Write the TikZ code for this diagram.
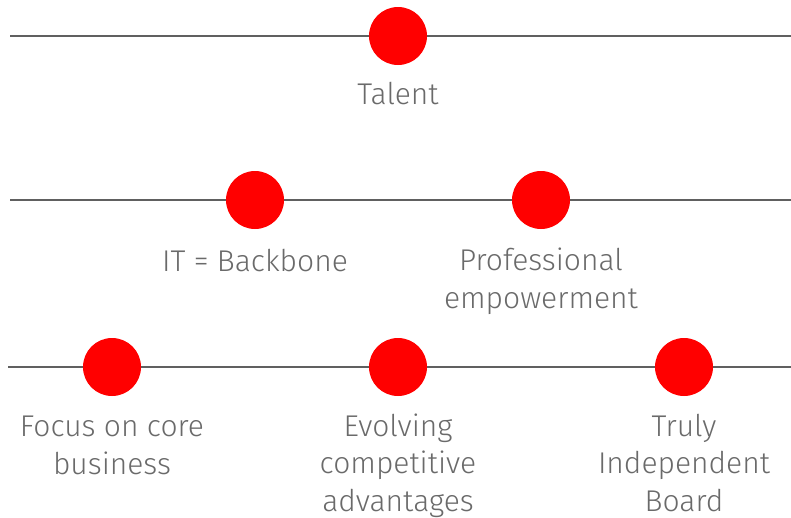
\documentclass[tikz,border=0pt]{standalone}
\usepackage{fontspec}
\setmainfont{Fira Sans}[UprightFont=* Light]
\definecolor{dotred}{HTML}{FF0000}
\definecolor{linegrey}{HTML}{606060}
\definecolor{textgrey}{HTML}{6A6A6A}
\begin{document}
\begin{tikzpicture}[x=1pt,y=-1pt,
  dot/.style={circle,fill=dotred,minimum size=58pt,inner sep=0pt},
  rail/.style={draw=linegrey,line width=1.5pt},
  lbl/.style={text=textgrey,font=\fontsize{30}{37.3}\selectfont,align=center,inner sep=0pt,anchor=base}]
\useasboundingbox (0,0) rectangle (791,517);
% rails
\coordinate (r1a) at (10,36);  \coordinate (r1b) at (791,36);
\coordinate (r2a) at (10,200); \coordinate (r2b) at (791,200);
\coordinate (r3a) at (8,367);  \coordinate (r3b) at (791,367);
\draw[rail] (r1a) -- (r1b);
\draw[rail] (r2a) -- (r2b);
\draw[rail] (r3a) -- (r3b);
% dots
\node[dot] (talent) at (398,36) {};
\node[dot] (it) at (255,200) {};
\node[dot] (prof) at (541,200) {};
\node[dot] (focus) at (112,367) {};
\node[dot] (evol) at (398,367) {};
\node[dot] (board) at (684,367) {};
% labels (base = baseline of last line)
\node[lbl] (ltalent) at (398,104) {Talent};
\node[lbl] (lit) at (255,271) {IT = Backbone};
\node[lbl] (lprof) at (541,308) {Professional\\empowerment};
\node[lbl] (lfocus) at (112,474) {Focus on core\\business};
\node[lbl] (levol) at (398,511) {Evolving\\competitive\\advantages};
\node[lbl] (lboard) at (684,511) {Truly\\Independent\\Board};
\end{tikzpicture}
\end{document}
